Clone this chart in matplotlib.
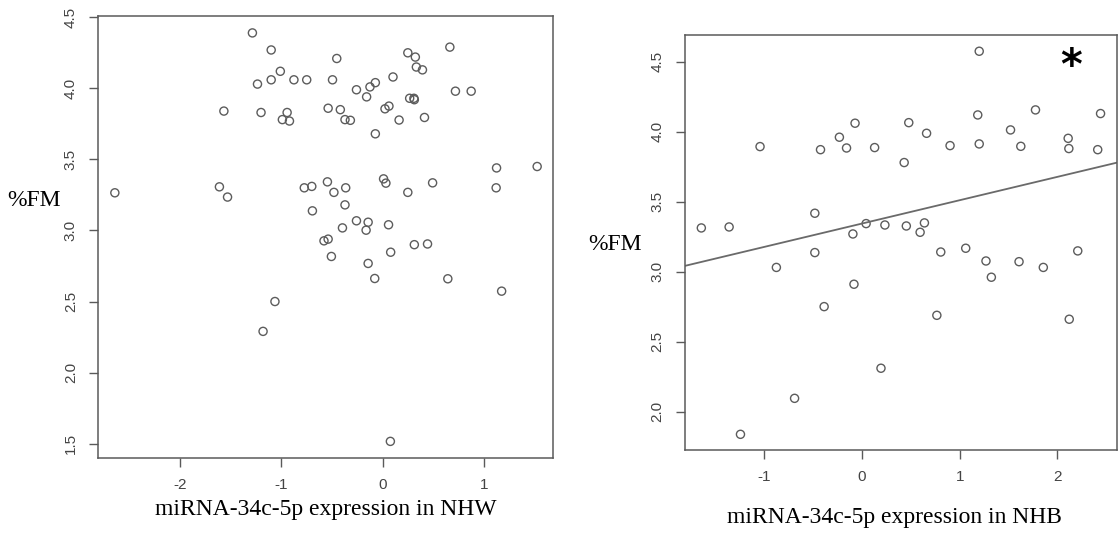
import matplotlib
matplotlib.use("Agg")
import matplotlib.pyplot as plt

# NHW panel (left)
nhw_expr = [-2.64, -1.285, -1.10, -1.235, -1.10, -1.01, -0.876, -0.75, -0.496, -0.454,
            -1.566, -1.20, -0.943, -0.99, -0.92, -0.539, -0.419, -0.373, -0.32, -0.26,
            -0.16, -0.127, -0.074, -0.074, 0.021, 0.06, 0.10, 0.16, 0.246, 0.32,
            0.33, 0.39, 0.264, 0.306, 0.31, 0.41, 0.66, 0.715, 0.87, 1.12,
            1.52, 1.116, -1.61, -1.53, -0.774, -0.70, -0.546, -0.482, -0.366, -0.694,
            -0.373, 0.007, 0.03, 0.246, 0.49, -0.26, -0.145, -0.165, -0.398, 0.056,
            -0.58, -0.539, -0.507, -0.145, 0.077, 0.31, 0.44, -0.08, 0.64, 1.17,
            -1.063, -1.18, 0.074]
nhw_fm = [3.265, 4.39, 4.27, 4.03, 4.06, 4.12, 4.06, 4.06, 4.06, 4.21,
          3.84, 3.83, 3.83, 3.78, 3.77, 3.86, 3.85, 3.78, 3.775, 3.99,
          3.94, 4.01, 4.04, 3.68, 3.856, 3.875, 4.08, 3.777, 4.25, 4.22,
          4.15, 4.13, 3.93, 3.93, 3.92, 3.795, 4.29, 3.98, 3.98, 3.44,
          3.45, 3.30, 3.307, 3.235, 3.30, 3.31, 3.342, 3.268, 3.30, 3.138,
          3.18, 3.363, 3.333, 3.268, 3.335, 3.068, 3.058, 3.002, 3.018, 3.04,
          2.927, 2.939, 2.817, 2.768, 2.847, 2.90, 2.905, 2.662, 2.66, 2.573,
          2.50, 2.29, 1.516]

# NHB panel (right)
nhb_expr = [-1.64, -1.356, -1.04, -0.873, -0.48, -0.48, -0.422, -0.229, -0.156, -0.069,
            -0.091, 0.044, 0.131, 0.236, 0.433, 0.48, 0.455, 0.596, 0.64, 0.662,
            0.807, 0.902, 1.062, 1.185, 1.2, 1.2, 1.269, 1.52, 1.607, 1.625,
            1.775, 1.855, 2.109, 2.116, 2.207, 2.411, 2.44, 1.324, -0.08, -0.385,
            0.767, 2.12, 0.196, -0.687, -1.24]
nhb_fm = [3.312, 3.319, 3.893, 3.03, 3.417, 3.136, 3.871, 3.96, 3.883, 4.06,
          3.269, 3.343, 3.886, 3.333, 3.779, 4.064, 3.326, 3.281, 3.348, 3.988,
          3.14, 3.90, 3.167, 4.119, 4.574, 3.912, 3.076, 4.012, 3.071, 3.895,
          4.155, 3.03, 3.952, 3.879, 3.148, 3.871, 4.129, 2.96, 2.91, 2.75,
          2.688, 2.66, 2.31, 2.095, 1.838]

# fitted line for NHB
fit_intercept = 3.343
fit_slope = 0.167

nhw_xticks = [-2, -1, 0, 1]
nhw_yticks = [1.5, 2.0, 2.5, 3.0, 3.5, 4.0, 4.5]
nhb_xticks = [-1, 0, 1, 2]
nhb_yticks = [2.0, 2.5, 3.0, 3.5, 4.0, 4.5]

AX_COL = "#5a5a5a"
PT_COL = "#5c5c5c"
SERIF = "Liberation Serif"


def style_axes(ax, xticks, yticks):
    for sp in ax.spines.values():
        sp.set_color(AX_COL)
        sp.set_linewidth(1.1)
    ax.set_xticks(xticks)
    ax.set_xticklabels(["%d" % t for t in xticks])
    ax.set_yticks(yticks)
    ax.set_yticklabels(["%.1f" % t for t in yticks], rotation=90, va="center")
    ax.tick_params(direction="out", length=6.5, width=1.0, color=AX_COL,
                   labelcolor="#444444", labelsize=11, pad=8)
    for lab in ax.get_xticklabels() + ax.get_yticklabels():
        lab.set_family("Liberation Sans")


fig = plt.figure(figsize=(11.18, 5.40), dpi=100)

ax1 = fig.add_axes([98 / 1118, 82 / 540, 455 / 1118, 442 / 540])
ax1.scatter(nhw_expr, nhw_fm, s=34, facecolors="none", edgecolors=PT_COL, linewidths=1.0)
ax1.set_xlim(-2.806, 1.676)
ax1.set_ylim(1.399, 4.509)
style_axes(ax1, nhw_xticks, nhw_yticks)
fig.text(326 / 1118, 1 - 510 / 540, "miRNA-34c-5p expression in NHW",
         family=SERIF, fontsize=17, ha="center", va="center")
fig.text(7 / 1118, 1 - 200 / 540, "%FM", family=SERIF, fontsize=17,
         ha="left", va="center")

ax2 = fig.add_axes([684.6 / 1118, 90 / 540, 432 / 1118, 415 / 540])
ax2.scatter(nhb_expr, nhb_fm, s=34, facecolors="none", edgecolors=PT_COL, linewidths=1.0)
ax2.axline((0, fit_intercept), slope=fit_slope, color="#6a6a6a", linewidth=1.3)
ax2.set_xlim(-1.811, 2.604)
ax2.set_ylim(1.726, 4.69)
style_axes(ax2, nhb_xticks, nhb_yticks)
ax2.text(2.138, 4.464, "*", fontsize=30, fontweight="bold", family="DejaVu Sans",
         ha="center", va="center", color="black")
fig.text(894 / 1118, 1 - 517 / 540, "miRNA-34c-5p expression in NHB",
         family=SERIF, fontsize=17, ha="center", va="center")
fig.text(588 / 1118, 1 - 245 / 540, "%FM", family=SERIF, fontsize=17,
         ha="left", va="center")

fig.savefig("out.png", dpi=100)
